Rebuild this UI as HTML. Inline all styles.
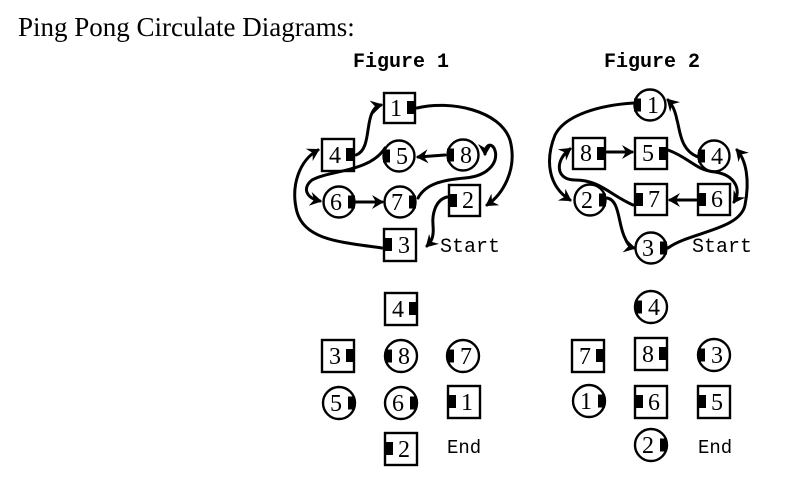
<!DOCTYPE html>
<html><head><meta charset="utf-8"><style>
html,body{margin:0;padding:0;background:#fff;}
svg{display:block;}
.s{fill:none;stroke:#000;stroke-width:2.4;}
.c{fill:none;stroke:#000;stroke-width:3;stroke-linecap:round;}
.n{font-family:"Liberation Serif",serif;font-size:24px;text-anchor:middle;fill:#000;}
.m{font-family:"Liberation Mono",monospace;fill:#000;}
</style></head><body>
<svg width="790" height="482" viewBox="0 0 790 482" xmlns="http://www.w3.org/2000/svg">
<defs>
<marker id="a" markerUnits="userSpaceOnUse" markerWidth="16" markerHeight="16" refX="10" refY="7" orient="auto">
<path d="M0,0 L12,7 L0,14 L4,7 z" fill="#000"/>
</marker>
</defs>
<text x="18" y="36" font-family="Liberation Serif, serif" font-size="27">Ping Pong Circulate Diagrams:</text>
<text class="m" x="401" y="67" font-size="20" font-weight="bold" text-anchor="middle">Figure 1</text>
<text class="m" x="652" y="67" font-size="20" font-weight="bold" text-anchor="middle">Figure 2</text>

<!-- Figure 1 top -->
<rect class="s" x="384" y="93" width="31" height="30"/><rect x="407" y="101" width="7" height="13"/><text class="n" x="396" y="116">1</text>
<rect class="s" x="322" y="139" width="32" height="32"/><rect x="346" y="148" width="7" height="13"/><text class="n" x="335" y="163">4</text>
<circle class="s" cx="399" cy="156" r="15.5"/><rect x="383" y="149.5" width="7" height="13"/><text class="n" x="402" y="164">5</text>
<circle class="s" cx="463" cy="155" r="15.5"/><rect x="447" y="148.5" width="7" height="13"/><text class="n" x="466" y="163">8</text>
<circle class="s" cx="339" cy="202" r="15.5"/><rect x="348" y="195.5" width="7" height="13"/><text class="n" x="336" y="210">6</text>
<circle class="s" cx="400" cy="202" r="15.5"/><rect x="409" y="195.5" width="7" height="13"/><text class="n" x="397" y="210">7</text>
<rect class="s" x="449" y="185" width="31" height="31"/><rect x="450" y="194" width="7" height="13"/><text class="n" x="468" y="208">2</text>
<rect class="s" x="384" y="229" width="32" height="32"/><rect x="385" y="238" width="7" height="13"/><text class="n" x="404" y="253">3</text>
<text class="m" x="440" y="252" font-size="20">Start</text>

<path class="c" marker-end="url(#a)" d="M356,155 C370,150 366,125 372,113 C375,107 377,106 381,105"/>
<path class="c" marker-end="url(#a)" d="M417,108 C450,100 500,110 510,140 C518,170 502,195 487,205"/>
<path class="c" marker-end="url(#a)" d="M445,155 L418,157"/>
<path class="c" marker-end="url(#a)" d="M418,198 C425,185 440,180 465,178 C490,176 500,160 494,148 C490,142 485,146 485,154"/>
<path class="c" marker-end="url(#a)" d="M385,148 C370,172 330,170 312,180 C302,188 306,198 320,201"/>
<path class="c" marker-end="url(#a)" d="M356,202 L382,202"/>
<path class="c" marker-end="url(#a)" d="M447,197 C435,200 432,215 433,225 C434,236 432,241 427,246"/>
<path class="c" marker-end="url(#a)" d="M382,248 C340,242 305,240 297,212 C290,185 300,160 318,150"/>

<!-- Figure 2 top -->
<circle class="s" cx="650" cy="105" r="15.5"/><rect x="634" y="98.5" width="7" height="13"/><text class="n" x="653" y="113">1</text>
<rect class="s" x="573" y="138" width="32" height="31"/><rect x="597" y="147" width="7" height="13"/><text class="n" x="586" y="161">8</text>
<rect class="s" x="635" y="138" width="32" height="31"/><rect x="659" y="147" width="7" height="13"/><text class="n" x="648" y="161">5</text>
<circle class="s" cx="714" cy="156" r="15.5"/><rect x="698" y="149.5" width="7" height="13"/><text class="n" x="717" y="164">4</text>
<circle class="s" cx="590" cy="200" r="15.5"/><rect x="599" y="193.5" width="7" height="13"/><text class="n" x="587" y="208">2</text>
<rect class="s" x="635" y="184" width="32" height="31"/><rect x="636" y="193" width="7" height="13"/><text class="n" x="654" y="207">7</text>
<rect class="s" x="698" y="184" width="32" height="31"/><rect x="699" y="193" width="7" height="13"/><text class="n" x="717" y="207">6</text>
<circle class="s" cx="651" cy="248" r="15.5"/><rect x="660" y="241.5" width="7" height="13"/><text class="n" x="648" y="256">3</text>
<text class="m" x="692" y="252" font-size="20">Start</text>

<path class="c" marker-end="url(#a)" d="M634,103 C600,105 565,115 555,135 C545,160 548,186 570,200"/>
<path class="c" marker-end="url(#a)" d="M607,198 C620,200 618,225 625,238 C628,245 630,247 634,248"/>
<path class="c" marker-end="url(#a)" d="M668,248 C690,232 740,230 745,205 C750,180 746,160 737,150"/>
<path class="c" marker-end="url(#a)" d="M698,157 C680,150 680,130 677,120 C675,110 672,104 668,100"/>
<path class="c" marker-end="url(#a)" d="M607,152 L632,152"/>
<path class="c" marker-end="url(#a)" d="M668,150 C690,158 695,170 715,172 C735,175 742,190 734,202"/>
<path class="c" marker-end="url(#a)" d="M696,200 L670,200"/>
<path class="c" marker-end="url(#a)" d="M633,205 C610,195 600,180 575,180 C555,180 555,160 570,149"/>

<!-- Figure 1 bottom -->
<rect class="s" x="385" y="293" width="32" height="32"/><rect x="409" y="302" width="7" height="13"/><text class="n" x="398" y="317">4</text>
<rect class="s" x="322" y="340" width="32" height="32"/><rect x="346" y="349" width="7" height="13"/><text class="n" x="335" y="364">3</text>
<circle class="s" cx="401" cy="356" r="16"/><rect x="385" y="349.5" width="7" height="13"/><text class="n" x="404" y="364">8</text>
<circle class="s" cx="463" cy="356" r="16"/><rect x="447" y="349.5" width="7" height="13"/><text class="n" x="466" y="364">7</text>
<circle class="s" cx="339" cy="403" r="16"/><rect x="348" y="396.5" width="7" height="13"/><text class="n" x="336" y="411">5</text>
<circle class="s" cx="401" cy="403" r="16"/><rect x="410" y="396.5" width="7" height="13"/><text class="n" x="398" y="411">6</text>
<rect class="s" x="448" y="386" width="32" height="32"/><rect x="449" y="395" width="7" height="13"/><text class="n" x="467" y="410">1</text>
<rect class="s" x="385" y="433" width="32" height="32"/><rect x="386" y="442" width="7" height="13"/><text class="n" x="404" y="457">2</text>
<text class="m" x="447" y="453" font-size="19">End</text>

<!-- Figure 2 bottom -->
<circle class="s" cx="651" cy="307" r="16"/><rect x="635" y="300.5" width="7" height="13"/><text class="n" x="654" y="315">4</text>
<rect class="s" x="572" y="340" width="32" height="32"/><rect x="596" y="349" width="7" height="13"/><text class="n" x="585" y="364">7</text>
<rect class="s" x="635" y="338" width="32" height="32"/><rect x="659" y="347" width="7" height="13"/><text class="n" x="648" y="362">8</text>
<circle class="s" cx="714" cy="355" r="16"/><rect x="698" y="348.5" width="7" height="13"/><text class="n" x="717" y="363">3</text>
<circle class="s" cx="589" cy="401" r="16"/><rect x="598" y="394.5" width="7" height="13"/><text class="n" x="586" y="409">1</text>
<rect class="s" x="635" y="386" width="32" height="32"/><rect x="636" y="395" width="7" height="13"/><text class="n" x="654" y="410">6</text>
<rect class="s" x="698" y="386" width="32" height="32"/><rect x="699" y="395" width="7" height="13"/><text class="n" x="717" y="410">5</text>
<circle class="s" cx="651" cy="445" r="16"/><rect x="660" y="438.5" width="7" height="13"/><text class="n" x="648" y="453">2</text>
<text class="m" x="698" y="453" font-size="19">End</text>
</svg>
</body></html>
